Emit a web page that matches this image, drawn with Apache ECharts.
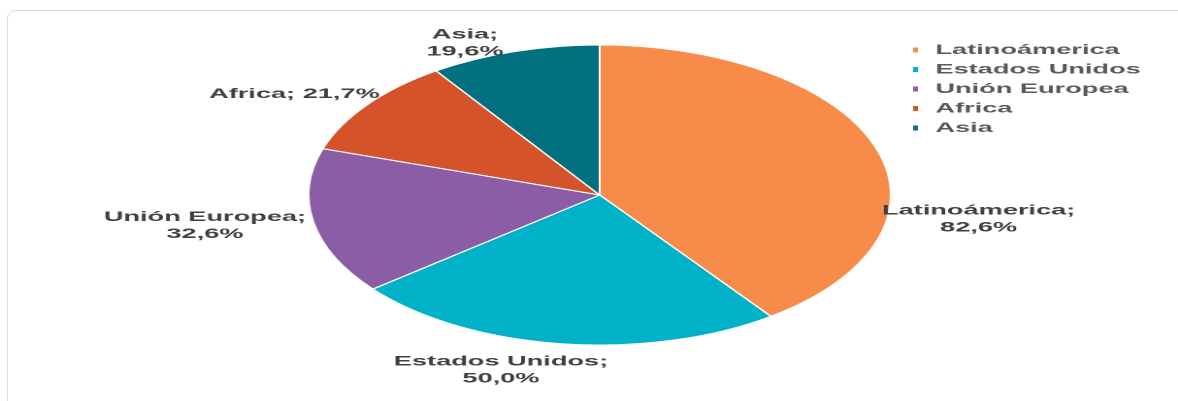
<!DOCTYPE html>
<html>
<head>
<meta charset="utf-8">
<script src="https://cdn.jsdelivr.net/npm/echarts@6/dist/echarts.min.js"></script>
<style>
  html, body { margin: 0; padding: 0; background: #fff; width: 1178px; height: 401px; overflow: hidden; }
  #frame { position: absolute; left: 7px; top: 10px; width: 1190px; height: 410px;
           border: 1px solid #dcdcdc; border-radius: 9px; box-sizing: border-box; }
  /* the chart is laid out narrow and widened horizontally */
  #chart { position: absolute; left: 0; top: 0; width: 607px; height: 401px;
           transform: scaleX(1.9407); transform-origin: 0 0; }
</style>
</head>
<body>
<div id="frame"></div>
<div id="chart"></div>
<script>
// Regions and their values (%)
const categories = ['Latinoámerica', 'Estados Unidos', 'Unión Europea', 'Africa', 'Asia'];
const values = [82.6, 50.0, 32.6, 21.7, 19.6];

const sliceColors = ['#F68B4A', '#00B1C7', '#8A5DA6', '#D5532A', '#03707F'];
// labels that stay on a single line
const singleLineLabels = ['Africa'];
// fine adjustment of each data label from its default outside spot
const labelNudge = [[40, 73], [-25, 18.5], [-43, 2], [-26, -6], [-18, -1]];

const fontFamily = '"Liberation Sans", Arial, sans-serif';

const chart = echarts.init(document.getElementById('chart'), null, { devicePixelRatio: 2 });

chart.setOption({
  animation: false,
  backgroundColor: 'transparent',
  color: sliceColors,
  legend: {
    orient: 'vertical',
    left: 463.5,
    top: 38,
    icon: 'rect',
    itemWidth: 4.5,
    itemHeight: 7,
    itemGap: 5.5,
    selectedMode: false,
    data: categories,
    textStyle: {
      fontFamily: fontFamily,
      fontSize: 14,
      fontWeight: 'bold',
      color: '#595959',
      lineHeight: 14,
      padding: [0, 0, 0, 3]
    }
  },
  series: [{
    type: 'pie',
    center: [309, 195],
    radius: 150,
    startAngle: 90,
    clockwise: true,
    avoidLabelOverlap: false,
    emphasis: { disabled: true },
    itemStyle: { borderColor: '#ffffff', borderWidth: 1 },
    label: {
      show: true,
      position: 'outside',
      alignTo: 'none',
      fontFamily: fontFamily,
      fontSize: 14,
      fontWeight: 'bold',
      color: '#404040',
      lineHeight: 17,
      formatter: function (p) {
        const sep = singleLineLabels.indexOf(p.name) >= 0 ? ' ' : '\n';
        return p.name + ';' + sep + p.value.toFixed(1).replace('.', ',') + '%';
      }
    },
    labelLine: { show: false, length: 8, length2: 0 },
    labelLayout: function (p) {
      const n = labelNudge[p.dataIndex];
      return { align: 'center', verticalAlign: 'middle', dx: n[0], dy: n[1] };
    },
    data: categories.map(function (name, i) { return { name: name, value: values[i] }; })
  }]
});
</script>
</body>
</html>
